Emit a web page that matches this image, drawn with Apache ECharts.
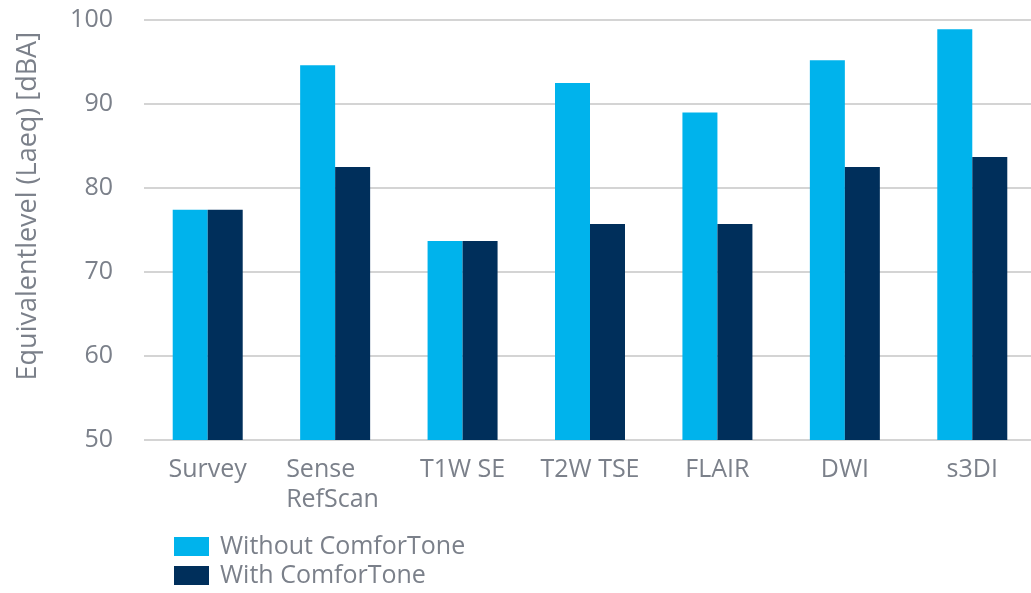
<!DOCTYPE html>
<html><head><meta charset="utf-8">
<script src="https://cdn.jsdelivr.net/npm/echarts@6/dist/echarts.min.js"></script>
<style>html,body{margin:0;padding:0;background:#fff;overflow:hidden}#c{width:1040px;height:593px}</style>
</head><body><div id="c"></div>
<script>
const categories = ['Survey', 'Sense\nRefScan', 'T1W SE', 'T2W TSE', 'FLAIR', 'DWI', 's3DI'];
const withoutComfor = [77.4, 94.6, 73.7, 92.5, 89.0, 95.2, 98.9];
const withComfor = [77.4, 82.5, 73.7, 75.7, 75.7, 82.5, 83.7];
const yTicks = [50, 60, 70, 80, 90, 100];
const seriesNames = ['Without ComforTone', 'With ComforTone'];

const txt = '#7b808a';
const font = 'Open Sans';
const fs = 25;
const chart = echarts.init(document.getElementById('c'), null, {renderer: 'canvas'});
chart.setOption({
  animation: false,
  color: ['#00b3ec', '#002f5b'],
  grid: {left: 144, top: 20, width: 892, height: 420, containLabel: false},
  legend: {
    orient: 'vertical', left: 169, top: 527, height: 70, itemWidth: 35, itemHeight: 19, itemGap: 0,
    icon: 'rect', textStyle: {color: txt, fontSize: fs, fontFamily: font, lineHeight: 29, padding: [0, 0, 0, 6]},
    data: seriesNames
  },
  xAxis: {
    type: 'category', data: categories,
    axisLine: {show: false}, axisTick: {show: false},
    axisLabel: {color: txt, fontSize: fs, fontFamily: font, margin: 15, lineHeight: 30, interval: 0,
      formatter: function (v) {
        if (v.indexOf('\n') < 0) return v;
        return v.split('\n').map(s => '{l|' + s + '}').join('\n');
      },
      rich: {l: {width: 98, align: 'left', color: txt, fontSize: fs, fontFamily: font, lineHeight: 30}}
    }
  },
  yAxis: {
    type: 'value', min: yTicks[0], max: yTicks[yTicks.length - 1], interval: 10,
    axisLine: {show: false}, axisTick: {show: false},
    axisLabel: {color: txt, fontSize: 25, fontFamily: font, margin: 31},
    splitLine: {lineStyle: {color: '#c6c6c6', width: 1.5}}
  },
  graphic: [{
    type: 'text', left: 15, top: 32, rotation: Math.PI / 2,
    style: {text: 'Equivalentlevel (Laeq) [dBA]', fill: txt, fontSize: 27, fontFamily: font}
  }],
  series: [
    {name: seriesNames[0], type: 'bar', data: withoutComfor, barWidth: 35, barGap: '0%'},
    {name: seriesNames[1], type: 'bar', data: withComfor, barWidth: 35, barGap: '0%'}
  ]
});
</script></body></html>
